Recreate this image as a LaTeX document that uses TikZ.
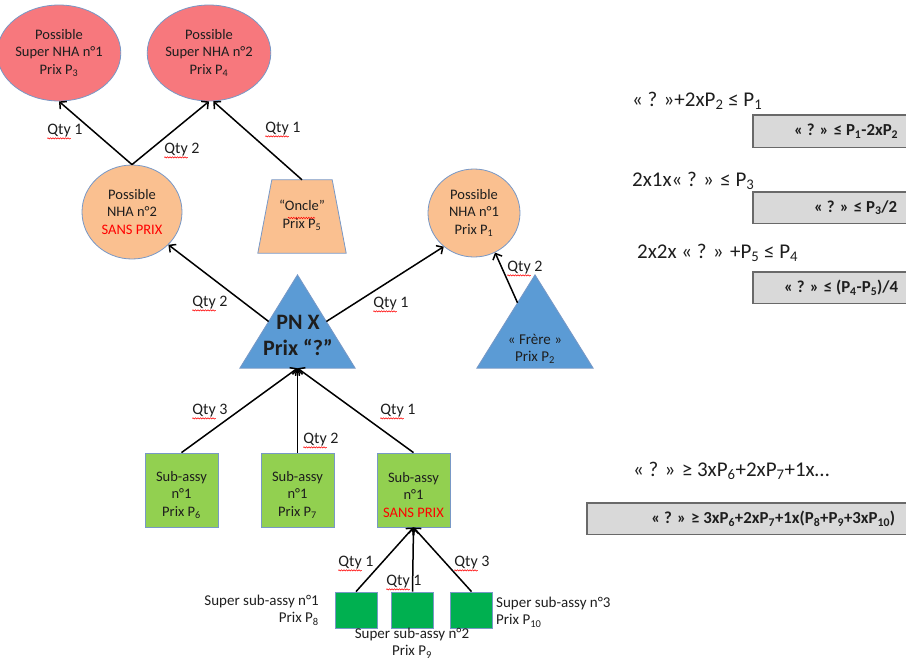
\documentclass[tikz,border=0pt]{standalone}
\usepackage{fontspec}
\setmainfont{Carlito}
\usetikzlibrary{shapes.geometric,arrows.meta,calc,decorations.pathmorphing}
\definecolor{redc}{RGB}{247,120,125}
\definecolor{orangec}{RGB}{250,192,144}
\definecolor{bluec}{RGB}{91,155,213}
\definecolor{greenl}{RGB}{146,208,80}
\definecolor{greend}{RGB}{0,176,80}
\definecolor{bord}{RGB}{120,152,198}
\definecolor{grayf}{RGB}{217,217,217}
\definecolor{grayb}{RGB}{105,105,105}
\definecolor{txt}{RGB}{30,30,30}
\definecolor{redt}{RGB}{255,0,0}
\begin{document}
\begin{tikzpicture}[x=1pt,y=-1pt,
  every node/.style={text=txt,inner sep=0pt,align=center,font=\fontsize{14.5}{17.8}\selectfont},
  ell/.style={ellipse,draw=bord,line width=0.8pt},
  redell/.style={ell,fill=redc,minimum width=98pt,minimum height=96pt},
  orell/.style={ell,fill=orangec},
  subbox/.style={rectangle,draw=bord,line width=0.8pt,fill=greenl,minimum width=73pt,minimum height=74pt},
  supbox/.style={rectangle,draw=bord,line width=0.8pt,fill=greend,minimum width=42pt,minimum height=36pt},
  tribox/.style={rectangle,minimum width=116pt,minimum height=93pt},
  shapefill/.style={draw=bord,line width=0.8pt},
  arr/.style={draw=black,line width=1.5pt,-{Straight Barb[length=5pt,width=10pt,line width=1.5pt]}},
  qty/.style={font=\fontsize{16}{19}\selectfont},
  wav/.style={draw=red,line width=0.5pt,decorate,decoration={snake,segment length=2.5pt,amplitude=0.7pt}},
  eqn/.style={anchor=west,font=\fontsize{21}{25}\selectfont},
  gbox/.style={rectangle,fill=grayf,anchor=north west},
  gline/.style={draw=grayb,line width=1.2pt},
  gtxt/.style={anchor=east,font=\bfseries\fontsize{16.8}{20}\selectfont},
  small/.style={font=\fontsize{15}{17.5}\selectfont}
]
\useasboundingbox (0,0) rectangle (906,662);

% top red circles
\node[redell] (sn1) at (59,53) {Possible\\Super NHA n°1\\Prix P\textsubscript{3}};
\node[redell] (sn2) at (209,53) {Possible\\Super NHA n°2\\Prix P\textsubscript{4}};

% orange
\node[orell,minimum width=100pt,minimum height=94pt] (nha2) at (132,212) {Possible\\NHA n°2\\\textcolor{redt}{SANS PRIX}};
\node[orell,minimum width=92pt,minimum height=88pt] (nha1) at (474,213) {Possible\\NHA n°1\\Prix P\textsubscript{1}};
\node[rectangle,minimum width=88pt,minimum height=73pt] (oncle) at (302,216.5) {};
\path[shapefill,fill=orangec] (oncle.south west) -- (oncle.south east) -- ([xshift=-14pt]oncle.north east) -- ([xshift=14pt]oncle.north west) -- cycle;
\node (onclet) at (302,215) {“Oncle”\\Prix P\textsubscript{5}};

% triangles
\node[tribox,minimum width=115pt] (pnx) at (297.5,321.5) {};
\path[shapefill,fill=bluec] (pnx.south west) -- (pnx.south east) -- (pnx.north) -- cycle;
\node[font=\bfseries\fontsize{22}{26}\selectfont] (pnxt) at (298,335) {PN X\\Prix “?”};
\node[tribox] (frere) at (535,321.5) {};
\path[shapefill,fill=bluec] (frere.south west) -- (frere.south east) -- (frere.north) -- cycle;
\node[small] (fret) at (535,349) {« Frère »\\Prix P\textsubscript{2}};

\coordinate (pnxL) at ($(pnx.south west)!0.5!(pnx.north)$);
\coordinate (pnxR) at ($(pnx.south east)!0.5!(pnx.north)$);
\coordinate (frL) at ($(frere.south west)!0.7!(frere.north)$);

% sub-assy
\node[subbox] (sub1) at (181.5,490) {};
\node[subbox] (sub2) at (297.5,490) {};
\node[subbox] (sub3) at (413.5,490) {};
\node (sub1t) at ($(sub1.center)+(0,5)$) {Sub-assy\\n°1\\Prix P\textsubscript{6}};
\node (sub2t) at ($(sub2.center)+(0,5)$) {Sub-assy\\n°1\\Prix P\textsubscript{7}};
\node (sub3t) at ($(sub3.center)+(0,5)$) {Sub-assy\\n°1\\\textcolor{redt}{SANS PRIX}};

% super sub-assy
\node[supbox] (ss1) at (356,610) {};
\node[supbox] (ss2) at (412.5,610) {};
\node[supbox] (ss3) at (471.5,610) {};
\node[small,anchor=east,align=right] (ss1t) at (319,610) {Super sub-assy n°1\\Prix P\textsubscript{8}};
\node[small] (ss2t) at (412,643) {Super sub-assy n°2\\Prix P\textsubscript{9}};
\node[small,anchor=west,align=left] (ss3t) at (496,612) {Super sub-assy n°3\\Prix P\textsubscript{10}};

% connectors
\draw[arr] (nha2.north) -- (sn1.south);
\draw[arr] (nha2.north) -- (sn2.south);
\draw[arr] (oncle.north) -- (sn2.-85);
\draw[arr] (pnxL) -- (nha2.-42);
\draw[arr] (pnxR) -- (nha1.228);
\draw[arr] (frL) -- (nha1.-62);
\draw[arr] (sub1.north) -- (pnx.south);
\draw[arr] (sub2.north) -- (pnx.south);
\draw[arr] (sub3.north) -- (pnx.south);
\draw[arr] (ss1.north) -- (sub3.south);
\draw[arr] (ss2.north) -- (sub3.south);
\draw[arr] (ss3.north) -- (sub3.south);

% quantities
\node[qty] (q1) at (65,131) {Qty 1};
\node[qty] (q2) at (182,150) {Qty 2};
\node[qty] (q3) at (283,129) {Qty 1};
\node[qty] (q4) at (210,303) {Qty 2};
\node[qty] (q5) at (391,304) {Qty 1};
\node[qty] (q6) at (525,268) {Qty 2};
\node[qty] (q7) at (210,411) {Qty 3};
\node[qty] (q8) at (321,440) {Qty 2};
\node[qty] (q9) at (398,411) {Qty 1};
\node[qty] (q10) at (356,563) {Qty 1};
\node[qty] (q11) at (404,582) {Qty 1};
\node[qty] (q12) at (472,563) {Qty 3};
\foreach \q in {q1,q2,q3,q4,q5,q6,q7,q8,q9,q10,q11,q12}
  \draw[wav] ([yshift=-3.5pt]\q.base west) -- ([yshift=-3.5pt,xshift=23.5pt]\q.base west);
\draw[wav] ([shift={(-14pt,-3pt)}]onclet.center) -- ([shift={(13pt,-3pt)}]onclet.center);

% equations
\node[eqn] (e1) at (632,101) {« ? »+2xP\textsubscript{2} ≤ P\textsubscript{1}};
\node[eqn] (e2) at (632,181) {2x1x« ? » ≤ P\textsubscript{3}};
\node[eqn] (e3) at (637,253) {2x2x « ? » +P\textsubscript{5} ≤ P\textsubscript{4}};
\node[eqn] (e4) at (633,471) {« ? » ≥ 3xP\textsubscript{6}+2xP\textsubscript{7}+1x…};

% grey result boxes
\node[gbox,minimum width=153pt,minimum height=32pt] (g1) at (753,115) {};
\node[gbox,minimum width=153pt,minimum height=31pt] (g2) at (753,192) {};
\node[gbox,minimum width=153pt,minimum height=31pt] (g3) at (753,272) {};
\node[gbox,minimum width=319pt,minimum height=31pt] (g4) at (587,503) {};
\foreach \g in {g1,g2,g3,g4}
  \draw[gline] (\g.north east) -- (\g.north west) -- (\g.south west) -- (\g.south east);
\node[gtxt] (g1t) at ($(g1.east)+(-8,0)$) {« ? » ≤ P\textsubscript{1}-2xP\textsubscript{2}};
\node[gtxt] (g2t) at ($(g2.east)+(-9,0)$) {« ? » ≤ P\textsubscript{3}/2};
\node[gtxt] (g3t) at ($(g3.east)+(-8,0)$) {« ? » ≤ (P\textsubscript{4}-P\textsubscript{5})/4};
\node[gtxt] (g4t) at ($(g4.east)+(-11,0)$) {« ? » ≥ 3xP\textsubscript{6}+2xP\textsubscript{7}+1x(P\textsubscript{8}+P\textsubscript{9}+3xP\textsubscript{10})};
\end{tikzpicture}
\end{document}
